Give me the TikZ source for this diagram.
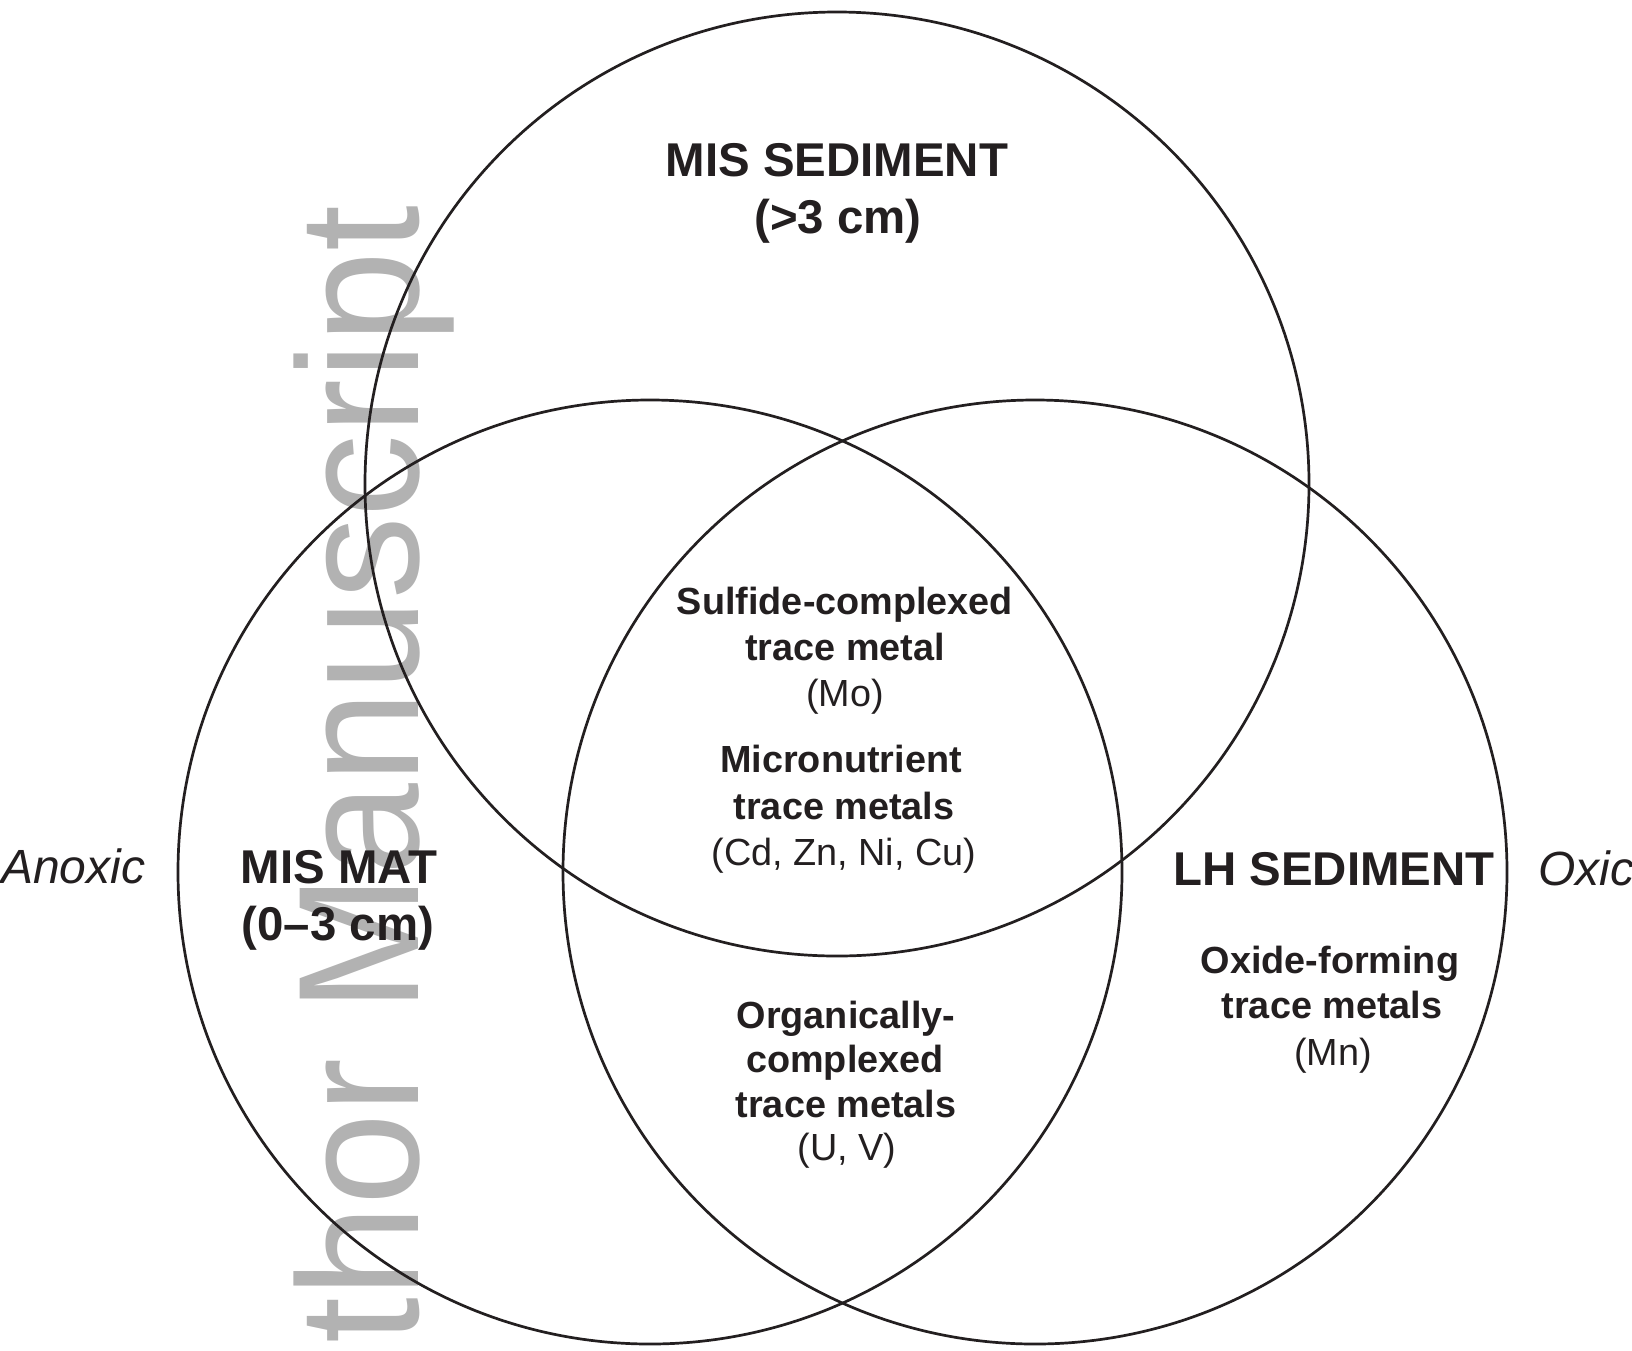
\documentclass[tikz,border=0pt]{standalone}
\usepackage{graphicx}
\usepackage{fontspec}
\setmainfont{Liberation Sans}
\definecolor{ink}{RGB}{35,31,32}
\definecolor{wmark}{RGB}{178,178,178}
\begin{document}
\begin{tikzpicture}[x=1pt,y=-1pt,
  ring/.style={draw=ink,line width=2.7pt},
  big/.style={anchor=base,inner sep=0pt,text=ink,font=\fontsize{47.4}{57}\selectfont\bfseries},
  bigit/.style={inner sep=0pt,text=ink,font=\fontsize{48}{57}\selectfont\itshape},
  lab/.style={anchor=base,inner sep=0pt,text=ink,font=\fontsize{37.8}{45}\selectfont\bfseries},
  sub/.style={anchor=base,inner sep=0pt,text=ink,font=\fontsize{37.8}{45}\selectfont}]
\useasboundingbox (0,0) rectangle (1632,1350);
\clip (0,0) rectangle (1632,1350);
\fill[white] (0,0) rectangle (1632,1350);
% watermark
\node[anchor=base east,rotate=90,inner sep=0pt,text=wmark,font=\fontsize{172}{172}\selectfont] (wm) at (418,205) {\scalebox{0.96}[1]{thor Manuscript}};
% circles
\coordinate (ctop) at (837,484);
\coordinate (cleft) at (650,872);
\coordinate (cright) at (1035,872);
\draw[ring] (ctop) circle (472);
\draw[ring] (cleft) circle (472);
\draw[ring] (cright) circle (472);
% top circle
\node[big] (ms1) at (837,176) {MIS SEDIMENT};
\node[big] (ms2) at (838,233) {(>3 cm)};
% left circle
\node[big] (mm1) at (339,883) {MIS MAT};
\node[big] (mm2) at (338,940) {(0–3 cm)};
% right circle
\node[big] (lh1) at (1334,885) {LH SEDIMENT};
\node[lab] (ox1) at (1330,973) {Oxide-forming};
\node[lab] (ox2) at (1332,1018) {trace metals};
\node[sub] (ox3) at (1333,1065) {(Mn)};
% centre
\node[lab] (sf1) at (845,614) {Sulfide-complexed};
\node[lab] (sf2) at (845,660) {trace metal};
\node[sub] (sf3) at (845,706) {(Mo)};
\node[lab] (mn1) at (841,772) {Micronutrient};
\node[lab] (mn2) at (844,819) {trace metals};
\node[sub] (mn3) at (844,865) {(Cd, Zn, Ni, Cu)};
% bottom
\node[lab] (og1) at (846,1028) {Organically-};
\node[lab] (og2) at (845,1072) {complexed};
\node[lab] (og3) at (846,1117) {trace metals};
\node[sub] (og4) at (847,1160) {(U, V)};
% side labels
\node[bigit,anchor=base west] (anox) at (1,883) {Anoxic};
\node[bigit,anchor=base west] (oxic) at (1538,885) {Oxic};
\end{tikzpicture}
\end{document}
